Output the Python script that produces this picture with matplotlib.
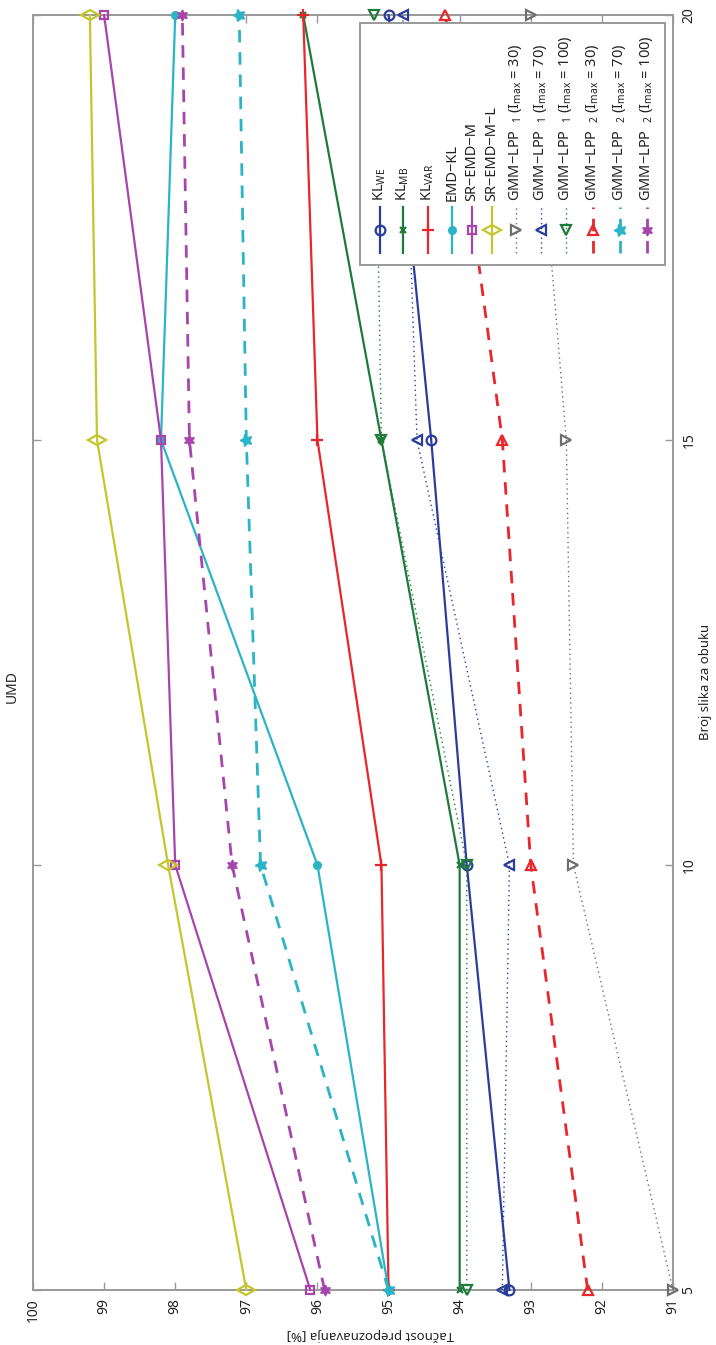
import matplotlib
matplotlib.use("Agg")
import matplotlib.pyplot as plt
from matplotlib.markers import MarkerStyle
from matplotlib.transforms import Affine2D
from matplotlib.patches import Rectangle

plt.rcParams['font.family'] = ['Noto Sans', 'DejaVu Sans']
plt.rcParams['mathtext.default'] = 'regular'

# training images per subject (vertical axis of the rotated chart)
n_train = [5, 10, 15, 20]

# recognition accuracy [%]
kl_we = [93.3, 93.9, 94.4, 95.0]
kl_mb = [94.0, 94.0, 95.1, 96.2]
kl_var = [95.0, 95.1, 96.0, 96.2]
emd_kl = [95.0, 96.0, 98.2, 98.0]
sr_emd_m = [96.1, 98.0, 98.2, 99.0]
sr_emd_m_l = [97.0, 98.1, 99.1, 99.2]
gmm1_30 = [91.0, 92.4, 92.5, 93.0]
gmm1_70 = [93.4, 93.3, 94.6, 94.8]
gmm1_100 = [93.9, 93.9, 95.1, 95.2]
gmm2_30 = [92.2, 93.0, 93.4, 94.2]
gmm2_70 = [95.0, 96.8, 97.0, 97.1]
gmm2_100 = [95.9, 97.2, 97.8, 97.9]

acc_ticks = [100, 99, 98, 97, 96, 95, 94, 93, 92, 91]

series_labels = [
    r'KL$_{WE}$', r'KL$_{MB}$', r'KL$_{VAR}$', 'EMD\u2212KL', 'SR\u2212EMD\u2212M', 'SR\u2212EMD\u2212M\u2212L',
    r'GMM$-$LPP  ${}_{1}$ (I$_{max}$ = 30)', r'GMM$-$LPP  ${}_{1}$ (I$_{max}$ = 70)',
    r'GMM$-$LPP  ${}_{1}$ (I$_{max}$ = 100)', r'GMM$-$LPP  ${}_{2}$ (I$_{max}$ = 30)',
    r'GMM$-$LPP  ${}_{2}$ (I$_{max}$ = 70)', r'GMM$-$LPP  ${}_{2}$ (I$_{max}$ = 100)',
]

blue = '#2b3d9c'
green = '#1e7b3b'
red = '#e8262b'
cyan = '#2ab4c6'
magenta = '#a845ac'
olive = '#c5c62d'
grey = '#6f6f6f'

eye = MarkerStyle('d', transform=Affine2D().rotate_deg(90))
star5 = MarkerStyle((5, 1, 90))
star6 = MarkerStyle((6, 1, 0))

styles = [
    dict(color=blue, ls='-', lw=1.6, marker='o', ms=7, mfc='none', mew=1.6),
    dict(color=green, ls='-', lw=1.6, marker='x', ms=5, mew=1.6),
    dict(color=red, ls='-', lw=1.6, marker='+', ms=8, mew=1.6),
    dict(color=cyan, ls='-', lw=1.6, marker='.', ms=11),
    dict(color=magenta, ls='-', lw=1.6, marker='s', ms=6, mfc='none', mew=1.6),
    dict(color=olive, ls='-', lw=1.6, marker=eye, ms=9, mfc='none', mew=1.6),
    dict(color=grey, ls=(0, (1, 2.5)), lw=1.0, marker='>', ms=7, mfc='none', mew=1.6),
    dict(color=blue, ls=(0, (1, 2.5)), lw=1.0, marker='<', ms=7, mfc='none', mew=1.6),
    dict(color=green, ls=(0, (1, 2.5)), lw=1.0, marker='v', ms=7, mfc='none', mew=1.6),
    dict(color=red, ls=(0, (4.5, 3.5)), lw=2.0, marker='^', ms=7, mfc='none', mew=1.6),
    dict(color=cyan, ls=(0, (4.5, 3.5)), lw=2.0, marker=star5, ms=9),
    dict(color=magenta, ls=(0, (4.5, 3.5)), lw=2.0, marker=star6, ms=8),
]

series = [kl_we, kl_mb, kl_var, emd_kl, sr_emd_m, sr_emd_m_l,
          gmm1_30, gmm1_70, gmm1_100, gmm2_30, gmm2_70, gmm2_100]

W, H = 716, 1345
ax_l, ax_r, ax_t, ax_b = 33, 673, 15, 1290
fig = plt.figure(figsize=(W / 100, H / 100), dpi=100)
ax = fig.add_axes([ax_l / W, 1 - ax_b / H, (ax_r - ax_l) / W, (ax_b - ax_t) / H])

def fx(px):
    return (px - ax_l) / (ax_r - ax_l)

def fy(py):
    return (ax_b - py) / (ax_b - ax_t)

for vals, st in zip(series, styles):
    ax.plot(vals, n_train, clip_on=False, zorder=3, **st)

ax.set_xlim(100, 91)
ax.set_ylim(5, 20)
ax.set_xticks(acc_ticks)
ax.set_xticklabels([str(t) for t in acc_ticks], rotation=90)
ax.set_yticks(n_train)
ax.set_yticklabels([str(t) for t in n_train], rotation=90, va='center')
ax.yaxis.tick_right()
ax.tick_params(direction='in', top=True, bottom=True, left=True, right=True,
               length=6, width=1, color='#999999', labelsize=10, labelcolor='#222222', pad=6)
for s in ax.spines.values():
    s.set_color('#999999')
    s.set_linewidth(1.4)

# legend (rotated, drawn by hand)
ax.add_patch(Rectangle((fx(360), fy(265)), fx(665) - fx(360), fy(23) - fy(265),
                       transform=ax.transAxes, facecolor='white', edgecolor='#999999',
                       lw=1.4, zorder=5, clip_on=False))
entry_x = [380, 403, 428, 452, 472, 492, 516, 541, 566, 593, 620, 647]
for px, lab, st in zip(entry_x, series_labels, styles):
    st2 = dict(st)
    mk = st2.pop('marker')
    ms = st2.pop('ms')
    ax.plot([fx(px), fx(px)], [fy(253), fy(207)], transform=ax.transAxes,
            clip_on=False, zorder=6, **{k: v for k, v in st2.items() if k in ('color', 'ls', 'lw')})
    ax.plot([fx(px)], [fy(230)], transform=ax.transAxes, clip_on=False, zorder=7,
            marker=mk, ms=ms, color=st['color'], mfc=st2.get('mfc', st['color']),
            mew=st2.get('mew', 1.0), ls='none')
    ax.text(fx(px), fy(201), lab, transform=ax.transAxes, rotation=90,
            ha='center', va='bottom', fontsize=10.5, color='#222222', zorder=7)

fig.text(12 / W, 1 - 687 / H, 'UMD', rotation=90, ha='center', va='center',
         fontsize=10, color='#222222')
fig.text(706 / W, 1 - 682 / H, 'Broj slika za obuku', rotation=90, ha='center',
         va='center', fontsize=9.5, color='#222222')
fig.text(370 / W, 1 - 1334 / H, 'Tačnost prepoznavanja [%]', rotation=180,
         ha='center', va='center', fontsize=9.5, color='#222222')

fig.savefig('out.png', dpi=100)
